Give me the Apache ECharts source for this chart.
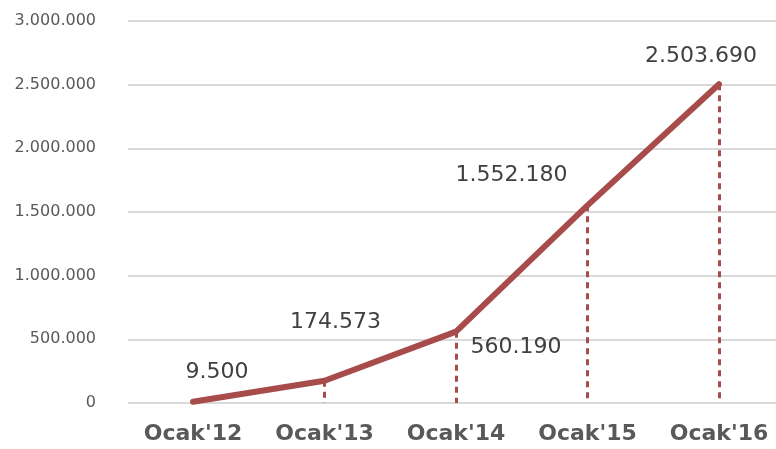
<!DOCTYPE html>
<html>
<head>
<meta charset="utf-8">
<script src="https://cdn.jsdelivr.net/npm/echarts@6/dist/echarts.min.js"></script>
<style>
    html, body { margin: 0; padding: 0; background: #fff; }
    #chart { width: 776px; height: 449px; }
</style>
</head>
<body>
<div id="chart"></div>
<script>
    // veriler
    var categories = ["Ocak'12", "Ocak'13", "Ocak'14", "Ocak'15", "Ocak'16"];
    var values = [9500, 174573, 560190, 1552180, 2503690];
    var yTicks = [0, 500000, 1000000, 1500000, 2000000, 2500000, 3000000];

    var LINE_COLOR = '#a84b4b';

    // etiket konumlari (noktaya gore)
    var labelOffsets = [[24, -30], [11, -58], [60, 16], [-76, -30], [-18, -28]];

    var formatTr = function (v) {
        return String(Math.round(v)).replace(/\B(?=(\d{3})+(?!\d))/g, '.');
    };

    var seriesData = [], dropLines = [], i;
    for (i = 0; i < values.length; i++) {
        seriesData.push({
            value: values[i],
            label: { offset: labelOffsets[i] }
        });
        dropLines.push([
            { coord: [i, values[i]] },
            { coord: [i, 0] }
        ]);
    }

    var yMin = yTicks[0],
        yMax = yTicks[yTicks.length - 1],
        yStep = yTicks[1] - yTicks[0];

    var myChart = echarts.init(document.getElementById('chart'));
    myChart.setOption({
        animation: false,
        grid: [
            // arka plan cizgileri + y ekseni
            { left: 128, right: 0, top: 21, height: 382 },
            // veri alani
            { left: 193, right: 57, top: 21, height: 382 }
        ],
        xAxis: [{
            gridIndex: 0,
            type: 'value',
            show: false
        }, {
            gridIndex: 1,
            type: 'category',
            data: categories,
            boundaryGap: false,
            axisLine: { show: false },
            axisTick: { show: false },
            splitLine: { show: false },
            axisLabel: {
                margin: 20,
                color: '#595959',
                fontFamily: 'DejaVu Sans',
                fontWeight: 'bold',
                fontSize: 22
            }
        }],
        yAxis: [{
            gridIndex: 0,
            type: 'value',
            min: yMin,
            max: yMax,
            interval: yStep,
            axisLine: { show: false },
            axisTick: { show: false },
            splitLine: { lineStyle: { color: '#d9d9d9', width: 2 } },
            axisLabel: {
                margin: 32,
                color: '#595959',
                fontFamily: 'DejaVu Sans',
                fontSize: 16,
                verticalAlign: 'middle',
                padding: [0, 0, 8, 0],
                formatter: formatTr
            }
        }, {
            gridIndex: 1,
            type: 'value',
            min: yMin,
            max: yMax,
            interval: yStep,
            show: false,
            splitLine: { show: false }
        }],
        series: [{
            type: 'line',
            xAxisIndex: 1,
            yAxisIndex: 1,
            data: seriesData,
            symbol: 'circle',
            symbolSize: 2,
            itemStyle: { color: LINE_COLOR },
            lineStyle: { color: LINE_COLOR, width: 6, cap: 'round' },
            label: {
                show: true,
                position: 'inside',
                color: '#404040',
                fontFamily: 'DejaVu Sans',
                fontSize: 22,
                formatter: function (p) { return formatTr(p.value); }
            },
            markLine: {
                silent: true,
                symbol: 'none',
                label: { show: false },
                lineStyle: { color: LINE_COLOR, width: 3, type: [6, 5] },
                data: dropLines
            },
            z: 3
        }]
    });
</script>
</body>
</html>
